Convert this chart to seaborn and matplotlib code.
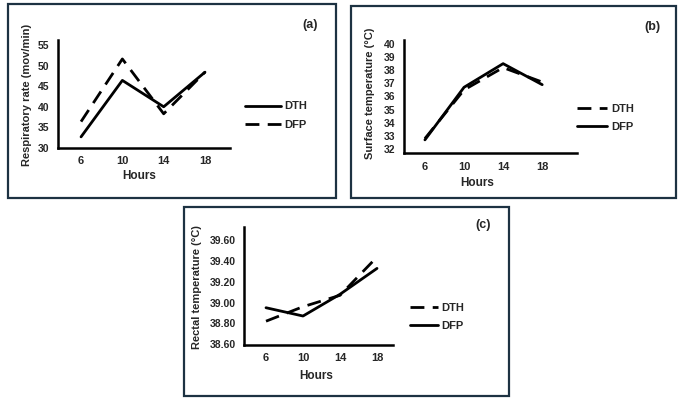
import numpy as np
import pandas as pd
import matplotlib
matplotlib.use("Agg")
import matplotlib.pyplot as plt
import seaborn as sns
from matplotlib.patches import Rectangle

# Data
hours = [6, 10, 14, 18]

resp_dth = [32.7, 46.4, 40.0, 48.4]
resp_dfp = [36.4, 51.6, 38.3, 48.4]

surf_dth = [32.8, 36.5, 38.2, 37.1]
surf_dfp = [32.7, 36.7, 38.5, 36.9]

rect_dth = [38.82, 38.96, 39.07, 39.44]
rect_dfp = [38.95, 38.87, 39.08, 39.33]

sns.set_style("white")
plt.rcParams['font.family'] = ['Liberation Sans', 'DejaVu Sans']
plt.rcParams['font.weight'] = 'bold'

W, H = 681, 405
fig = plt.figure(figsize=(W / 100, H / 100), dpi=100)
border = '#1d3242'


def px_axes(left, right, top, bottom):
    return fig.add_axes([left / W, (H - bottom) / H, (right - left) / W, (bottom - top) / H])


def frame(x0, x1, y0, y1):
    fig.patches.append(Rectangle((x0 / W, (H - y1) / H), (x1 - x0) / W, (y1 - y0) / H,
                                 transform=fig.transFigure, fill=False,
                                 edgecolor=border, lw=1.6))


def panel(ax, dth, dfp, dth_dash, xlim, ylim, yticks, yfmt, ylabel,
          legend_order, leg_x, leg_y, handlelen, xlab, ylab, tickpad):
    df = pd.DataFrame({'Hours': hours * 2, 'val': dth + dfp,
                       'Group': ['DTH'] * 4 + ['DFP'] * 4})
    dashes = {'DTH': (5, 3) if dth_dash else '', 'DFP': '' if dth_dash else (5, 3)}
    sns.lineplot(data=df, x='Hours', y='val', style='Group', dashes=dashes,
                 color='black', lw=2.0, ax=ax, legend=False)
    ax.set_xlim(*xlim)
    ax.set_ylim(*ylim)
    ax.set_xticks(hours)
    ax.set_yticks(yticks)
    ax.set_yticklabels([yfmt.format(v) for v in yticks])
    ax.tick_params(length=0, pad=tickpad)
    ax.tick_params(axis='x', labelsize=8)
    ax.tick_params(axis='y', labelsize=7.5)
    for s in ['top', 'right']:
        ax.spines[s].set_visible(False)
    for s in ['left', 'bottom']:
        ax.spines[s].set_color('black')
        ax.spines[s].set_linewidth(1.8)
    ax.set_xlabel('Hours', fontsize=8.5, fontweight='bold')
    ax.set_ylabel(ylabel, fontsize=8, fontweight='bold')
    ax.xaxis.set_label_coords(*xlab)
    ax.yaxis.set_label_coords(*ylab)
    lines = ax.get_lines()
    handles = {'DTH': lines[0], 'DFP': lines[1]}
    ax.legend([handles[k] for k in legend_order], legend_order, loc='center left',
              bbox_to_anchor=(leg_x, leg_y), frameon=False, borderpad=0,
              borderaxespad=0, handlelength=handlelen, handletextpad=0.35,
              labelspacing=0.75, prop={'size': 8, 'weight': 'bold'})


# (a) respiratory rate
frame(8, 336, 4, 198)
ax1 = px_axes(58, 230, 40, 148)
panel(ax1, resp_dth, resp_dfp, False, (3.77, 20.42), (30, 56.2),
      [30, 35, 40, 45, 50, 55], '{:.0f}', 'Respiratory rate (mov/min)',
      ['DTH', 'DFP'], 1.087, 0.30, 3.2, (0.47, -0.2), (-0.15, 0.49), 6)
fig.text(310 / W, (H - 25) / H, '(a)', ha='center', va='center', fontsize=9, fontweight='bold')

# (b) surface temperature
frame(351, 676, 6, 198)
ax2 = px_axes(404, 577, 40, 153)
panel(ax2, surf_dth, surf_dfp, True, (3.86, 21.56), (31.7, 40.3),
      list(range(32, 41)), '{:.0f}', 'Surface temperature (°C)',
      ['DTH', 'DFP'], 1.0, 0.31, 2.7, (0.425, -0.21), (-0.17, 0.53), 6.5)
fig.text(652 / W, (H - 27) / H, '(b)', ha='center', va='center', fontsize=9, fontweight='bold')

# (c) rectal temperature
frame(184, 509, 207, 396)
ax3 = px_axes(244, 393, 227, 345)
panel(ax3, rect_dth, rect_dfp, True, (3.62, 19.73), (38.59, 39.73),
      [38.6, 38.8, 39.0, 39.2, 39.4, 39.6], '{:.2f}', 'Rectal temperature (°C)',
      ['DTH', 'DFP'], 1.114, 0.237, 2.5, (0.483, -0.21), (-0.28, 0.49), 6)
fig.text(483 / W, (H - 225) / H, '(c)', ha='center', va='center', fontsize=9, fontweight='bold')

fig.savefig('out.png', dpi=100)
